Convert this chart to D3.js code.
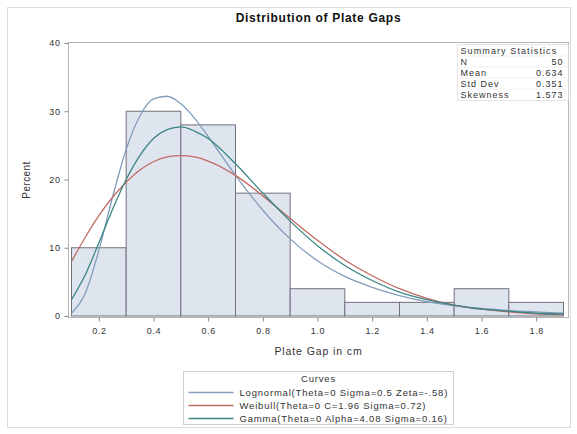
<!DOCTYPE html>
<html lang="en">
<head>
<meta charset="UTF-8">
<title>Distribution of Plate Gaps</title>
<script src="https://d3js.org/d3.v7.min.js"></script>
<style>
  body { margin: 0; background: #fff; }
  svg text { font-family: "Liberation Sans", Arial, sans-serif; fill: #333; }
</style>
</head>
<body>
<div id="chart"></div>
<script>
// histogram bins (lower edge) and percent per bin
const binStarts = [0.1, 0.3, 0.5, 0.7, 0.9, 1.1, 1.3, 1.5, 1.7];
const binPercents = [10, 30, 28, 18, 4, 2, 2, 4, 2];
const binWidth = 0.2;

const xTicks = [0.2, 0.4, 0.6, 0.8, 1.0, 1.2, 1.4, 1.6, 1.8];
const yTicks = [0, 10, 20, 30, 40];

// fitted density curves (percent)
const curveX = [0.1, 0.15, 0.2, 0.25, 0.3, 0.35, 0.4, 0.45, 0.5, 0.55, 0.6, 0.7, 0.8, 0.9,
                1.0, 1.1, 1.2, 1.3, 1.4, 1.5, 1.6, 1.7, 1.8, 1.9];
const lognormalY = [0.4, 3.3, 9.6, 17.4, 24.4, 29.3, 31.8, 32.2, 31.1, 29.0, 26.3, 20.6, 15.5, 11.3,
                    8.1, 5.8, 4.2, 3.0, 2.1, 1.5, 1.1, 0.8, 0.6, 0.4];
const weibullY = [8.0, 11.5, 14.7, 17.4, 19.6, 21.4, 22.6, 23.3, 23.5, 23.3, 22.7, 20.6, 17.6, 14.3,
                  11.1, 8.2, 5.9, 4.0, 2.6, 1.6, 1.0, 0.6, 0.3, 0.2];
const gammaY = [2.4, 6.0, 10.7, 15.6, 20.0, 23.5, 26.0, 27.3, 27.7, 27.1, 26.0, 22.3, 18.0, 13.9,
                10.3, 7.4, 5.2, 3.5, 2.4, 1.6, 1.0, 0.7, 0.4, 0.3];

const curveNames = ["Lognormal(Theta=0 Sigma=0.5 Zeta=-.58)",
                    "Weibull(Theta=0 C=1.96 Sigma=0.72)",
                    "Gamma(Theta=0 Alpha=4.08 Sigma=0.16)"];
const curveColors = ["#829dbb", "#c26a64", "#3a8682"];

const statLabels = ["N", "Mean", "Std Dev", "Skewness"];
const statValues = ["50", "0.634", "0.351", "1.573"];

const W = 577, H = 434;
const svg = d3.select("#chart").append("svg")
    .attr("width", W).attr("height", H);

// outer graph border
svg.append("rect")
    .attr("x", 7.5).attr("y", 7.5).attr("width", 563).attr("height", 420)
    .attr("fill", "none").attr("stroke", "#dcdcdc");

const plot = {left: 68.5, right: 568.5, top: 42.5, bottom: 317.5};

const x = d3.scaleLinear().domain([0.1, 1.9]).range([71.5, 563.5]);
const y = d3.scaleLinear().domain([0, 40]).range([316, 43]);

// title
svg.append("text")
    .attr("x", (plot.left + plot.right) / 2).attr("y", 22)
    .attr("text-anchor", "middle")
    .style("font-size", "12px").style("font-weight", "bold")
    .style("letter-spacing", "0.7px")
    .style("fill", "#111")
    .text("Distribution of Plate Gaps");

// bars
svg.append("g").selectAll("rect")
  .data(binStarts)
  .enter().append("rect")
    .attr("x", d => x(d))
    .attr("y", (d, i) => y(binPercents[i]))
    .attr("width", d => x(d + binWidth) - x(d))
    .attr("height", (d, i) => y(0) - y(binPercents[i]))
    .attr("fill", "#dfe5ef")
    .attr("stroke", "#70707e")
    .attr("stroke-width", 1);

// curves
svg.append("clipPath").attr("id", "clip")
  .append("rect")
    .attr("x", plot.left).attr("y", plot.top)
    .attr("width", plot.right - plot.left).attr("height", plot.bottom - plot.top);

const line = d3.line()
    .x((d, i) => x(curveX[i]))
    .y(d => y(d))
    .curve(d3.curveMonotoneX);

[lognormalY, weibullY, gammaY].forEach((series, k) => {
  svg.append("path")
    .attr("clip-path", "url(#clip)")
    .attr("d", line(series))
    .attr("fill", "none")
    .attr("stroke", curveColors[k])
    .attr("stroke-width", 1.3);
});

// plot frame
svg.append("rect")
    .attr("x", plot.left).attr("y", plot.top)
    .attr("width", plot.right - plot.left).attr("height", plot.bottom - plot.top)
    .attr("fill", "none").attr("stroke", "#b4b4b4");

// axes
const yAxis = svg.append("g")
    .attr("transform", `translate(${plot.left},0)`)
    .call(d3.axisLeft(y).tickValues(yTicks).tickSize(4).tickPadding(4).tickFormat(d3.format("d")));
const xAxis = svg.append("g")
    .attr("transform", `translate(0,${plot.bottom})`)
    .call(d3.axisBottom(x).tickValues(xTicks).tickSize(4).tickPadding(6).tickFormat(d3.format(".1f")));

[yAxis, xAxis].forEach(a => {
  a.select(".domain").remove();
  a.selectAll(".tick line").attr("stroke", "#888");
  a.selectAll(".tick text").style("font-size", "9px").style("fill", "#333")
    .style("letter-spacing", "0.6px")
    .style("font-family", "'Liberation Sans', Arial, sans-serif");
});

// axis titles
svg.append("text")
    .attr("transform", `translate(30,${(plot.top + plot.bottom) / 2}) rotate(-90)`)
    .attr("text-anchor", "middle")
    .style("font-size", "10px")
    .style("letter-spacing", "0.4px")
    .text("Percent");

svg.append("text")
    .attr("x", (plot.left + plot.right) / 2).attr("y", 355)
    .attr("text-anchor", "middle")
    .style("font-size", "10.5px")
    .style("letter-spacing", "0.9px")
    .text("Plate Gap in cm");

// summary statistics inset
const sb = {x: 457.5, y: 44.5, w: 111, h: 56};
const stats = svg.append("g");
stats.append("rect")
    .attr("x", sb.x).attr("y", sb.y).attr("width", sb.w).attr("height", sb.h)
    .attr("fill", "#fff").attr("stroke", "#c8c8c8").attr("stroke-dasharray", "1,1");
stats.append("text")
    .attr("x", sb.x + 3).attr("y", sb.y + 9)
    .style("font-size", "9px")
    .style("letter-spacing", "1.1px")
    .text("Summary Statistics");
statLabels.forEach((s, i) => {
  const yy = sb.y + 20 + i * 11;
  stats.append("line")
      .attr("x1", sb.x + 2).attr("x2", sb.x + sb.w - 2)
      .attr("y1", yy - 8.5).attr("y2", yy - 8.5)
      .attr("stroke", "#e2e2e2").attr("stroke-dasharray", "1,1");
  stats.append("text")
      .attr("x", sb.x + 3).attr("y", yy)
      .style("font-size", "9px")
      .style("letter-spacing", "1px")
      .text(s);
  stats.append("text")
      .attr("x", sb.x + sb.w - 5).attr("y", yy)
      .attr("text-anchor", "end")
      .style("font-size", "9px")
      .style("letter-spacing", "1px")
      .text(statValues[i]);
});

// legend
const lg = {x: 183.5, y: 371.5, w: 270, h: 53};
const legend = svg.append("g");
legend.append("rect")
    .attr("x", lg.x).attr("y", lg.y).attr("width", lg.w).attr("height", lg.h)
    .attr("fill", "#fff").attr("stroke", "#d0d0d0");
legend.append("text")
    .attr("x", (plot.left + plot.right) / 2).attr("y", lg.y + 10)
    .attr("text-anchor", "middle")
    .style("font-size", "9.5px")
    .style("letter-spacing", "0.8px")
    .text("Curves");
curveNames.forEach((name, i) => {
  const yy = lg.y + 21 + i * 13;
  legend.append("line")
      .attr("x1", lg.x + 5).attr("x2", lg.x + 50)
      .attr("y1", yy).attr("y2", yy)
      .attr("stroke", curveColors[i]).attr("stroke-width", 1.3);
  legend.append("text")
      .attr("x", lg.x + 56).attr("y", yy + 3)
      .style("font-size", "9.5px")
      .style("letter-spacing", "0.8px")
      .text(name);
});
</script>
</body>
</html>
